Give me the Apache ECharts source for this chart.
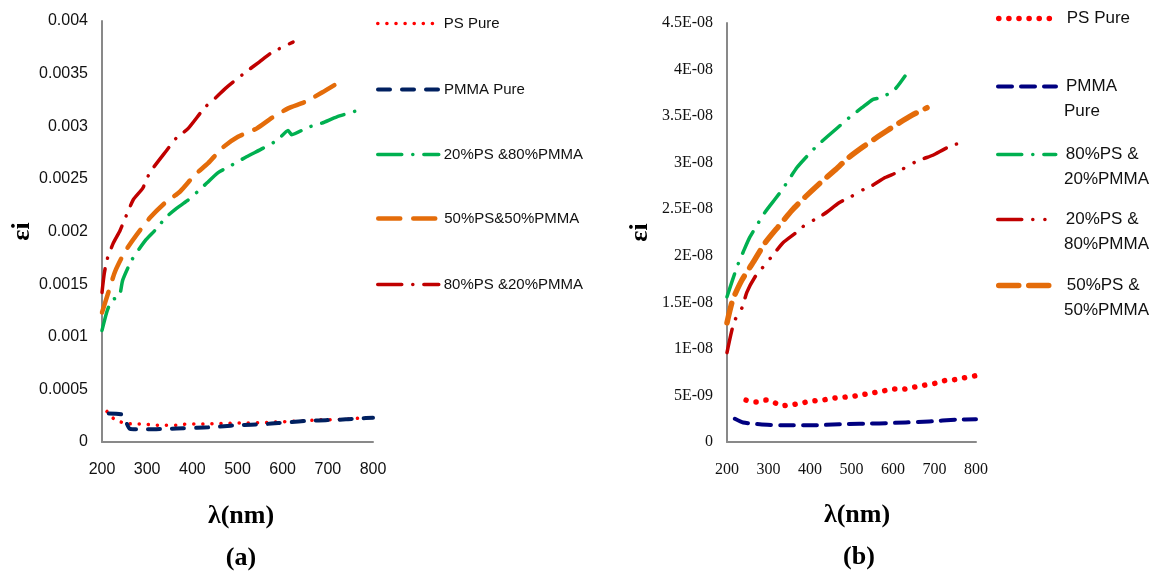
<!DOCTYPE html>
<html><head><meta charset="utf-8">
<script src="https://cdn.jsdelivr.net/npm/echarts@6/dist/echarts.min.js"></script>
<style>html,body{margin:0;padding:0;background:#fff}#c{width:1155px;height:575px}</style>
</head><body><div id="c"></div>
<script>
// ---------- Tick labels ----------
const xTicks = [200, 300, 400, 500, 600, 700, 800];
const leftYLabels = ['0', '0.0005', '0.001', '0.0015', '0.002', '0.0025', '0.003', '0.0035', '0.004'];
const rightYLabels = ['0', '5E-09', '1E-08', '1.5E-08', '2E-08', '2.5E-08', '3E-08', '3.5E-08', '4E-08', '4.5E-08'];

// ---------- Panel (a) ----------
const a_psX = [211,229,251,273,295,317,342,364,388,410,432,454,477,499,523,545,567,589,614,638,660,682,704,727,749,775,797];
const a_psY = [0.00029,0.00021,0.00018,0.00017,0.00017,0.00016,0.00016,0.00016,0.00017,0.00017,0.000172,0.000175,0.000178,0.00018,0.00018,0.000182,0.000185,0.00019,0.000195,0.0002,0.000205,0.00021,0.000212,0.000215,0.00022,0.000228,0.000235];
const a_pmmaX = [215,245,262,290,320,350,380,410,440,470,500,530,560,590,620,650,680,710,740,770,800];
const a_pmmaY = [0.00027,0.00026,0.000125,0.00012,0.000122,0.000125,0.00013,0.000135,0.00014,0.00015,0.00016,0.000165,0.00017,0.00018,0.00019,0.0002,0.000205,0.00021,0.000215,0.000225,0.00023];
const a_p20X = [200,211,222,238,246,266,297,317,343,365,388,412,432,457,483,520,556,589,612,620,656,687,720,766];
const a_p20Y = [0.00106,0.00124,0.00135,0.00138,0.00154,0.00173,0.00192,0.00201,0.00214,0.00222,0.00229,0.00238,0.00246,0.00256,0.00262,0.00271,0.00279,0.00287,0.00296,0.00292,0.00299,0.00303,0.00309,0.00315];
const a_p50X = [200,214,229,251,277,306,339,373,406,435,468,501,543,576,612,649,687,722];
const a_p50Y = [0.00123,0.00142,0.00162,0.00181,0.00197,0.00213,0.00227,0.00238,0.00254,0.00265,0.0028,0.0029,0.00298,0.00308,0.00317,0.00323,0.00332,0.00341];
const a_p80X = [200,205,211,224,240,269,290,306,343,365,391,428,454,476,523,548,576,623];
const a_p80Y = [0.00142,0.0016,0.00173,0.00188,0.00201,0.0023,0.00241,0.00256,0.00277,0.00289,0.00298,0.00318,0.00328,0.00337,0.00353,0.00361,0.0037,0.0038];

// ---------- Panel (b) ----------
const b_psX = [246,270,294,311,332,356,381,405,430,455,479,504,528,554,578,603,627,651,675,701,725,749,773,797];
const b_psY = [4.5e-9,4.3e-9,4.5e-9,4.3e-9,3.9e-9,4.0e-9,4.2e-9,4.4e-9,4.5e-9,4.7e-9,4.8e-9,4.9e-9,5.1e-9,5.3e-9,5.5e-9,5.7e-9,5.7e-9,5.9e-9,6.1e-9,6.3e-9,6.6e-9,6.7e-9,6.9e-9,7.1e-9];
const b_pmmaX = [219,239,279,335,407,471,567,631,687,751,800];
const b_pmmaY = [2.5e-9,2.1e-9,1.9e-9,1.8e-9,1.8e-9,1.9e-9,2.0e-9,2.1e-9,2.2e-9,2.4e-9,2.45e-9];
const b_p80X = [200,224,239,255,292,316,333,369,395,419,465,496,525,552,573,605,629];
const b_p80Y = [1.56e-8,1.88e-8,2.04e-8,2.2e-8,2.47e-8,2.61e-8,2.71e-8,2.95e-8,3.08e-8,3.19e-8,3.37e-8,3.49e-8,3.59e-8,3.68e-8,3.7e-8,3.79e-8,3.93e-8];
const b_p20X = [200,217,236,248,267,287,311,335,364,388,424,441,470,501,528,552,581,612,641,672,696,730,759];
const b_p20Y = [0.96e-8,1.29e-8,1.44e-8,1.61e-8,1.77e-8,1.88e-8,2.01e-8,2.14e-8,2.24e-8,2.33e-8,2.42e-8,2.47e-8,2.57e-8,2.64e-8,2.71e-8,2.76e-8,2.84e-8,2.9e-8,2.98e-8,3.04e-8,3.08e-8,3.16e-8,3.21e-8];
const b_p50X = [200,214,236,263,292,323,357,388,424,460,492,528,564,605,646,682];
const b_p50Y = [1.28e-8,1.53e-8,1.74e-8,1.93e-8,2.14e-8,2.31e-8,2.49e-8,2.63e-8,2.78e-8,2.92e-8,3.05e-8,3.17e-8,3.28e-8,3.4e-8,3.51e-8,3.59e-8];

// legend names (display text)
const aNames = ['PS Pure', 'PMMA Pure', '20%PS &80%PMMA', '50%PS&50%PMMA', '80%PS &20%PMMA'];
const bNames = [['PS Pure'], ['PMMA', 'Pure'], ['80%PS &', '20%PMMA'], ['20%PS &', '80%PMMA'], ['50%PS &', '50%PMMA']];

const zip = (xs, ys) => xs.map((x, i) => [x, ys[i]]);
const SANS = '"Liberation Sans", Arial, sans-serif';
const SERIF = '"Liberation Serif", "Times New Roman", serif';
const AXC = '#898989';

function line(name, xi, yi, xs, ys, color, width, dash) {
  return {
    type: 'line', name, xAxisIndex: xi, yAxisIndex: yi, data: zip(xs, ys),
    symbol: 'none', showSymbol: false, smooth: 0.2, animation: false,
    lineStyle: { color, width, type: dash, cap: 'round', join: 'round' },
    itemStyle: { color }
  };
}

const bKeys = bNames.map((n, i) => 'b' + i);

const series = [
  line(aNames[0], 0, 0, a_psX, a_psY, '#FF0000', 3.5, [0.1, 9]),
  line(aNames[1], 0, 0, a_pmmaX, a_pmmaY, '#002060', 4, [12, 12]),
  line(aNames[2], 0, 0, a_p20X, a_p20Y, '#00B050', 3.5, [24, 11, 0.1, 11]),
  line(aNames[3], 0, 0, a_p50X, a_p50Y, '#E46C0A', 4.5, [22, 13]),
  line(aNames[4], 0, 0, a_p80X, a_p80Y, '#C00000', 3.5, [24, 11, 0.1, 11]),
  line(bKeys[0], 1, 1, b_psX, b_psY, '#FF0000', 5.5, [0.1, 10]),
  line(bKeys[1], 1, 1, b_pmmaX, b_pmmaY, '#000080', 4, [14, 9]),
  line(bKeys[2], 1, 1, b_p80X, b_p80Y, '#00B050', 3.5, [24, 11, 0.1, 11]),
  line(bKeys[3], 1, 1, b_p20X, b_p20Y, '#C00000', 3.5, [24, 11, 0.1, 12, 0.1, 11]),
  line(bKeys[4], 1, 1, b_p50X, b_p50Y, '#E46C0A', 5.5, [20, 10])
];

const aLegendY = [24, 90, 155, 219, 285];
const bLegendY = [19, 87, 155, 220, 286];
const hideSym = { opacity: 0, color: 'rgba(0,0,0,0)', borderWidth: 0 };
const legLine = { width: 'inherit', type: 'inherit', cap: 'inherit', color: 'inherit' };
const legends = [];
aNames.forEach((n, i) => legends.push({
  data: [n], left: 376, top: aLegendY[i] - 8, padding: 0, itemWidth: 61, itemHeight: 14,
  selectedMode: false, itemStyle: hideSym, lineStyle: legLine,
  textStyle: { fontFamily: SANS, fontSize: 15, color: '#111' }
}));
bKeys.forEach((k, i) => legends.push({
  data: [k], left: 996, top: bLegendY[i] - 9, padding: 0, itemWidth: 58, itemHeight: 14,
  selectedMode: false, itemStyle: hideSym, lineStyle: legLine, formatter: () => bNames[i][0],
  textStyle: { fontFamily: SANS, fontSize: 17, color: '#111', padding: [0, 0, 0, 5] }
}));

const graphics = [];
bNames.forEach((n, i) => {
  if (n.length > 1) graphics.push({
    type: 'text', left: 1064, top: bLegendY[i] + 25 - 9,
    style: { text: n[1], font: '17px ' + SANS, fill: '#111' }
  });
});
// x axis titles and panel labels
[[241, 'λ(nm)', 516], [241, '(a)', 558], [857, 'λ(nm)', 515], [859, '(b)', 557]].forEach(([x, t, y]) => {
  graphics.push({ type: 'text', x, y, style: { text: t, font: 'bold 26px ' + SERIF, fill: '#000', align: 'center', verticalAlign: 'middle' } });
});

function xAxis(gi, fam) {
  return {
    type: 'value', gridIndex: gi, min: 200, max: 800, interval: 100,
    axisLine: { show: true, lineStyle: { color: AXC, width: 2 } },
    axisTick: { show: false }, splitLine: { show: false },
    axisLabel: { margin: 20, fontFamily: fam, fontSize: 16, color: '#111', formatter: v => String(xTicks[Math.round((v - 200) / 100)]) }
  };
}
function yAxis(gi, fam, max, step, labels, gap) {
  return {
    type: 'value', gridIndex: gi, min: 0, max, interval: step,
    axisLine: { show: true, lineStyle: { color: AXC, width: 2 } },
    axisTick: { show: false }, splitLine: { show: false },
    axisLabel: { margin: 14, fontFamily: fam, fontSize: 16, color: '#111', formatter: v => labels[Math.round(v / step)] },
    name: 'εi', nameLocation: 'middle', nameRotate: 90, nameGap: gap,
    nameTextStyle: { fontFamily: SERIF, fontWeight: 'bold', fontSize: 26, color: '#000' }
  };
}

const chart = echarts.init(document.getElementById('c'), null, { renderer: 'canvas' });
chart.setOption({
  animation: false,
  backgroundColor: '#fff',
  grid: [
    { left: 102, top: 21, width: 271, height: 421 },
    { left: 727, top: 23, width: 249, height: 419 }
  ],
  xAxis: [xAxis(0, SANS), xAxis(1, SERIF)],
  yAxis: [yAxis(0, SANS, 0.004, 0.0005, leftYLabels, 66), yAxis(1, SERIF, 4.5e-8, 5e-9, rightYLabels, 74)],
  legend: legends,
  series,
  graphic: graphics
});
</script></body></html>
